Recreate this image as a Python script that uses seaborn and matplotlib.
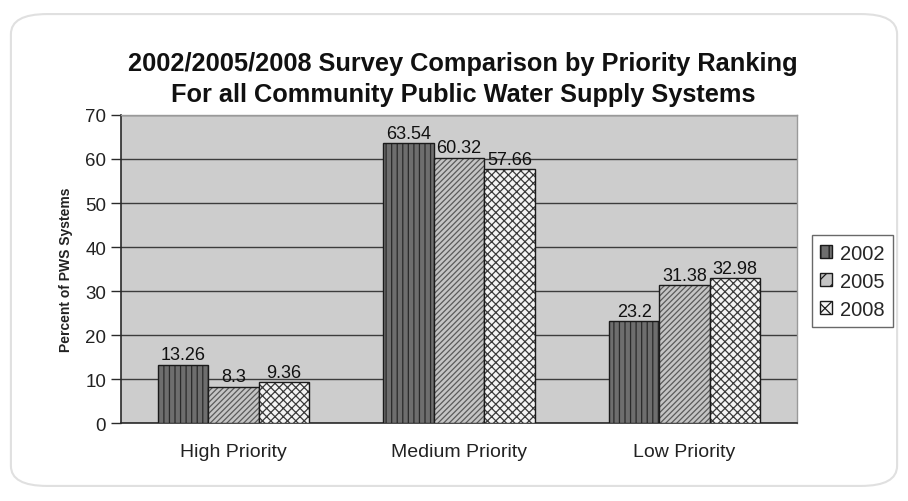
import pandas as pd
import seaborn as sns
import matplotlib.pyplot as plt
from matplotlib.colors import to_rgba
from matplotlib.patches import FancyBboxPatch, Patch

# =================== Data ===================

categories = ['High Priority', 'Medium Priority', 'Low Priority']
years = ['2002', '2005', '2008']
pct_2002 = [13.26, 63.54, 23.2]
pct_2005 = [8.3, 60.32, 31.38]
pct_2008 = [9.36, 57.66, 32.98]
value_labels = {
    '2002': ['13.26', '63.54', '23.2'],
    '2005': ['8.3', '60.32', '31.38'],
    '2008': ['9.36', '57.66', '32.98'],
}

df = pd.DataFrame({
    'Priority': categories * 3,
    'Year': [y for y in years for _ in categories],
    'Percent': pct_2002 + pct_2005 + pct_2008,
})

# =================== Styling ===================

sns.set_style('white')
plt.rcParams['font.family'] = ['Liberation Sans', 'DejaVu Sans']
plt.rcParams['hatch.linewidth'] = 0.9

face = {'2002': '#6e6e6e', '2005': '#c4c4c4', '2008': '#f4f4f4'}
hatch = {'2002': '|||', '2005': '//////', '2008': 'xxxx'}
hatch_col = {'2002': '#2a2a2a', '2005': '#5a5a5a', '2008': '#3a3a3a'}

fig = plt.figure(figsize=(9.08, 5.02), dpi=100)
fig.patch.set_facecolor('white')

# faint scanned frame
frame = FancyBboxPatch((0.012, 0.03), 0.976, 0.94,
                       boxstyle='round,pad=0,rounding_size=0.04',
                       transform=fig.transFigure, fill=False,
                       edgecolor='#e0e0e0', linewidth=1.5)
fig.add_artist(frame)

ax = fig.add_axes([0.133, 0.155, 0.745, 0.614])
ax.set_facecolor('#cdcdcd')

sns.barplot(data=df, x='Priority', y='Percent', hue='Year', order=categories,
            hue_order=years, palette=face, width=0.67, edgecolor='#1a1a1a',
            linewidth=1.0, legend=False, ax=ax, zorder=3)

for container, yr in zip(ax.containers, years):
    for bar in container:
        bar.set_hatch(hatch[yr])
        bar._hatch_color = to_rgba(hatch_col[yr])
    ax.bar_label(container, labels=value_labels[yr], padding=1,
                 fontsize=13, color='#111111')

ax.set_ylim(0, 70)
ax.set_yticks(range(0, 71, 10))
ax.yaxis.grid(True, color='#3c3c3c', linewidth=1.0, zorder=1)
ax.set_axisbelow(True)

for side in ['top', 'right']:
    ax.spines[side].set_color('#9a9a9a')
    ax.spines[side].set_linewidth(1.0)
for side in ['left', 'bottom']:
    ax.spines[side].set_color('#2a2a2a')
    ax.spines[side].set_linewidth(1.2)

ax.set_xticks([0, 1, 2])
ax.set_xticklabels(categories, fontsize=14, color='#222222')
ax.set_xticks([0.5, 1.5], minor=True)
ax.tick_params(axis='x', which='major', length=0, pad=14)
ax.tick_params(axis='x', which='minor', length=6, width=1.0, color='#2a2a2a')
ax.tick_params(axis='y', length=7, width=1.0, color='#2a2a2a',
               labelsize=13.5, labelcolor='#222222', left=True)
ax.set_xlim(-0.5, 2.5)

ax.set_xlabel('')
ax.set_ylabel('Percent of PWS Systems', fontsize=10, fontweight='bold',
              color='#222222', labelpad=9)

fig.text(0.51, 0.842, '2002/2005/2008 Survey Comparison by Priority Ranking\n'
         'For all Community Public Water Supply Systems',
         ha='center', va='center', fontsize=18.3, fontweight='bold',
         color='#111111', linespacing=1.4)

handles = [Patch(facecolor=face[y], hatch=hatch[y][:2], edgecolor='#1a1a1a',
                 label=y) for y in years]
leg = ax.legend(handles=handles, loc='center left',
                bbox_to_anchor=(1.022, 0.461), fontsize=14.5, frameon=True,
                fancybox=False, edgecolor='#444444', handlelength=0.6,
                handleheight=0.6, handletextpad=0.4, borderpad=0.4,
                labelspacing=0.45, borderaxespad=0)
leg.get_frame().set_linewidth(1.0)

plt.savefig('out.png', dpi=100)
